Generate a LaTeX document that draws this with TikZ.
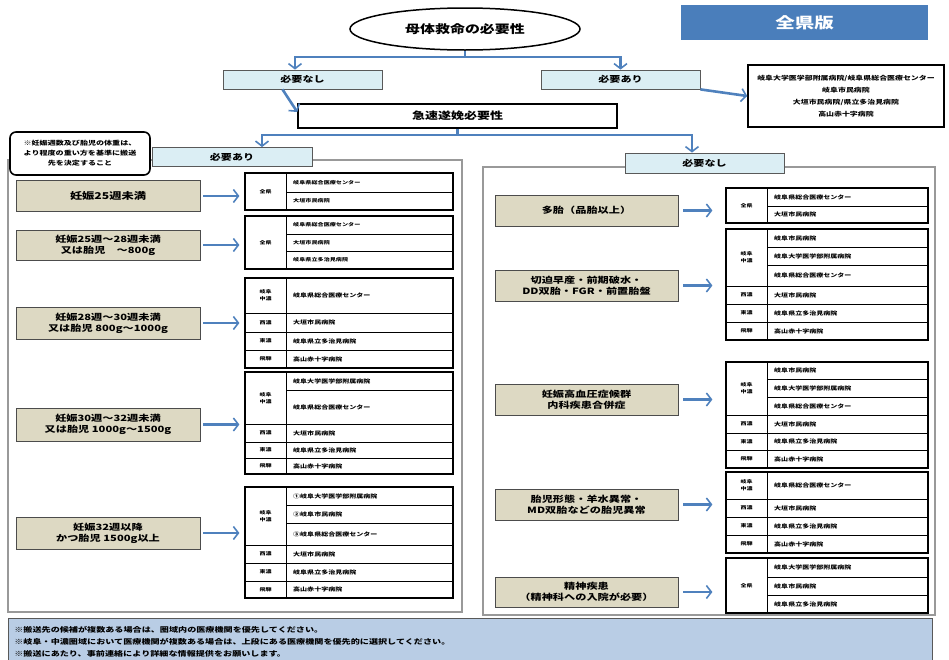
\documentclass[tikz,border=0pt]{standalone}
\usepackage{fontspec}
\setmainfont{Noto Sans CJK JP}[FakeStretch=1.3]
\usetikzlibrary{shapes.geometric,arrows.meta}

\definecolor{arrowblue}{RGB}{79,129,189}
\definecolor{titleblue}{RGB}{74,126,187}
\definecolor{headblue}{RGB}{219,238,244}
\definecolor{condtan}{RGB}{221,217,195}
\definecolor{noteblue}{RGB}{185,205,229}

\tikzset{
  trunk/.style={draw=arrowblue,line width=2.6pt},
  flow/.style={trunk,-{Straight Barb[length=5pt,width=13pt,line width=1.6pt]}},
  headbox/.style={draw=gray!70!black,line width=0.8pt,fill=headblue,minimum height=19,
    font=\bfseries\fontsize{8.5}{10}\selectfont},
  condbox/.style={draw=gray!60!black,line width=0.8pt,fill=condtan,minimum width=184,
    minimum height=31,align=center,inner sep=1pt,font=\bfseries\fontsize{8.6}{11}\selectfont},
  panel/.style={draw=gray!80,line width=1.2pt},
  cell/.style={draw=black,line width=0.6pt},
  tableframe/.style={draw=black,line width=1.2pt,inner sep=0pt},
  region/.style={align=center,inner sep=0pt,font=\bfseries\fontsize{4.6}{7}\selectfont},
  hosp/.style={anchor=west,inner sep=0pt,font=\bfseries\fontsize{5.4}{7}\selectfont},
}

% #1 name, #2 left x, #3 right x, #4 top y, #5 bottom y, #6 regions, #7 hospitals
\newcommand{\hosptable}[7]{%
  \foreach \ya/\yb/\txt [count=\i] in {#6}{
    \draw[cell] (#2,\ya) rectangle ({#2+41},\yb);
    \node[region] (#1-r\i) at ({#2+20.5},{(\ya+\yb)/2}) {\txt};
  }
  \foreach \ya/\yb/\txt [count=\i] in {#7}{
    \draw[cell] ({#2+41},\ya) rectangle (#3,\yb);
    \node[hosp] (#1-h\i) at ({#2+48},{(\ya+\yb)/2}) {\txt};
  }
  \node[tableframe,minimum width={#3-#2},minimum height={#5-#4}] (#1) at ({(#2+#3)/2},{(#4+#5)/2}) {};
}

\begin{document}
\begin{tikzpicture}[x=1pt,y=-1pt]
        \useasboundingbox (0,0) rectangle (949,659);

        % top of the chart
        \node[ellipse,draw,line width=1.5pt,minimum width=230,minimum height=42,
          font=\bfseries\fontsize{11.5}{14}\selectfont] (mother) at (465,29) {母体救命の必要性};
        \node[fill=titleblue,minimum width=247,minimum height=35,text=white,
          font=\bfseries\fontsize{15}{18}\selectfont] (edition) at (804.5,22.5) {全県版};
        \node[headbox,minimum width=159] (mno) at (302.5,79.5) {必要なし};
        \node[headbox,minimum width=159] (myes) at (620.5,79.5) {必要あり};
        \node[draw,line width=1.5pt,minimum width=319,minimum height=24,
          font=\bfseries\fontsize{10}{12}\selectfont] (urgent) at (457.5,116) {急速遂娩必要性};
        \node[draw,line width=1.5pt,minimum width=196,minimum height=62,align=center,
          font=\bfseries\fontsize{6.1}{12}\selectfont] (centers) at (846,96)
          {岐阜大学医学部附属病院/岐阜県総合医療センター\\岐阜市民病院\\大垣市民病院/県立多治見病院\\高山赤十字病院};

        \coordinate (split) at (465,57);
        \draw[trunk] (mother.south) -- (split);
        \draw[flow] (split) -| ([xshift=-7.5]mno.north);
        \draw[flow] (split) -| (myes.north);
        \draw[flow] ([xshift=-20]mno.south) -- ([yshift=4]urgent.west);
        \draw[flow] (myes.south east) -- (centers.west);

        % the two panels
        \draw[panel] (8,160) rectangle (462,612);
        \draw[panel] (483,167) rectangle (935,615);
        \node[headbox,minimum width=160] (hyes) at (232,157) {必要あり};
        \node[headbox,minimum width=159,minimum height=20] (hno) at (704.5,163) {必要なし};
        \node[draw,line width=1.6pt,rounded corners=6pt,fill=white,minimum width=140,minimum height=43,
          align=center,inner sep=1pt,font=\bfseries\fontsize{6.2}{10}\selectfont] (rule) at (80,153.5)
          {※妊娠週数及び胎児の体重は、\\より程度の重い方を基準に搬送\\先を決定すること};

        \coordinate (split2) at (457.5,135);
        \draw[trunk] (urgent.south) -- (split2);
        \draw[flow] (split2) -| ([xshift=30]hyes.north);
        \draw[flow] (split2) -| ([xshift=-12.5]hno.north);

        % left: urgent delivery needed
        \node[condbox,font=\bfseries\fontsize{9.4}{11}\selectfont] (cl1) at (108,196) {妊娠25週未満};
        \node[condbox,minimum height=30] (cl2) at (108,245) {妊娠25週～28週未満\\又は胎児　～800g};
        \node[condbox,minimum height=32] (cl3) at (108,323) {妊娠28週～30週未満\\又は胎児 800g～1000g};
        \node[condbox,minimum height=33] (cl4) at (108,424.5) {妊娠30週～32週未満\\又は胎児 1000g～1500g};
        \node[condbox,minimum height=32] (cl5) at (108,533) {妊娠32週以降\\かつ胎児 1500g以上};

        \begin{scope}[hosp/.append style={font=\bfseries\fontsize{4.7}{6}\selectfont}]
          \hosptable{tl1}{245}{453}{173}{210}{173/210/全県}
            {173/192/岐阜県総合医療センター,192/210/大垣市民病院}
          \hosptable{tl2}{245}{453}{216}{269}{216/269/全県}
            {216/234/岐阜県総合医療センター,234/251/大垣市民病院,251/269/岐阜県立多治見病院}
        \end{scope}
        \hosptable{tl3}{245}{453}{278}{368}
          {278/313/{岐阜\\中濃},313/332/西濃,332/350/東濃,350/368/飛騨}
          {278/313/岐阜県総合医療センター,313/332/大垣市民病院,332/350/岐阜県立多治見病院,350/368/高山赤十字病院}
        \hosptable{tl4}{245}{453}{372}{474}
          {372/424/{岐阜\\中濃},424/442/西濃,442/458/東濃,458/474/飛騨}
          {372/390/岐阜大学医学部附属病院,390/424/岐阜県総合医療センター,424/442/大垣市民病院,442/458/岐阜県立多治見病院,458/474/高山赤十字病院}
        \hosptable{tl5}{245}{453}{487}{598}
          {487/545/{岐阜\\中濃},545/563/西濃,563/581/東濃,581/598/飛騨}
          {487/505/①岐阜大学医学部附属病院,505/523/②岐阜市民病院,523/545/③岐阜県総合医療センター,545/563/大垣市民病院,563/581/岐阜県立多治見病院,581/598/高山赤十字病院}

        \foreach \n in {1,...,5}
          \draw[flow,shorten <=3pt,shorten >=5pt] (cl\n.east) -- (cl\n.east -| tl\n.west);

        % right: urgent delivery not needed
        \node[condbox,minimum width=183] (cr1) at (586.5,210.5) {多胎（品胎以上）};
        \node[condbox,minimum width=183] (cr2) at (586.5,285.5) {切迫早産・前期破水・\\DD双胎・FGR・前置胎盤};
        \node[condbox,minimum width=183] (cr3) at (586.5,399.5) {妊娠高血圧症候群\\内科疾患合併症};
        \node[condbox,minimum width=183] (cr4) at (586.5,504.5) {胎児形態・羊水異常・\\MD双胎などの胎児異常};
        \node[condbox,minimum width=183,minimum height=30] (cr5) at (586.5,592) {精神疾患\\（精神科への入院が必要）};

        \hosptable{tr1}{726}{928}{188}{223}{188/223/全県}
          {188/206/岐阜県総合医療センター,206/223/大垣市民病院}
        \hosptable{tr2}{726}{928}{229}{340}
          {229/286/{岐阜\\中濃},286/304/西濃,304/322/東濃,322/340/飛騨}
          {229/247/岐阜市民病院,247/265/岐阜大学医学部附属病院,265/286/岐阜県総合医療センター,286/304/大垣市民病院,304/322/岐阜県立多治見病院,322/340/高山赤十字病院}
        \hosptable{tr3}{726}{928}{362}{468}
          {362/415/{岐阜\\中濃},415/433/西濃,433/450/東濃,450/468/飛騨}
          {362/379/岐阜市民病院,379/397/岐阜大学医学部附属病院,397/415/岐阜県総合医療センター,415/433/大垣市民病院,433/450/岐阜県立多治見病院,450/468/高山赤十字病院}
        \hosptable{tr4}{726}{928}{472}{553}
          {472/499/{岐阜\\中濃},499/517/西濃,517/535/東濃,535/553/飛騨}
          {472/499/岐阜県総合医療センター,499/517/大垣市民病院,517/535/岐阜県立多治見病院,535/553/高山赤十字病院}
        \hosptable{tr5}{726}{928}{558}{613}{558/613/全県}
          {558/577/岐阜大学医学部附属病院,577/595/岐阜市民病院,595/613/岐阜県立多治見病院}

        \foreach \n in {1,...,5}
          \draw[flow,shorten <=5pt,shorten >=13pt] (cr\n.east) -- (cr\n.east -| tr\n.west);

        % notes at the bottom
        \node[draw=gray!70!black,line width=0.8pt,fill=noteblue,anchor=north west,text width=912,
          minimum height=46,align=left,inner sep=6pt,font=\bfseries\fontsize{7}{12}\selectfont] (notes) at (8,618)
          {※搬送先の候補が複数ある場合は、圏域内の医療機関を優先してください。\\
           ※岐阜・中濃圏域において医療機関が複数ある場合は、上段にある医療機関を優先的に選択してください。\\
           ※搬送にあたり、事前連絡により詳細な情報提供をお願いします。};
\end{tikzpicture}
\end{document}
